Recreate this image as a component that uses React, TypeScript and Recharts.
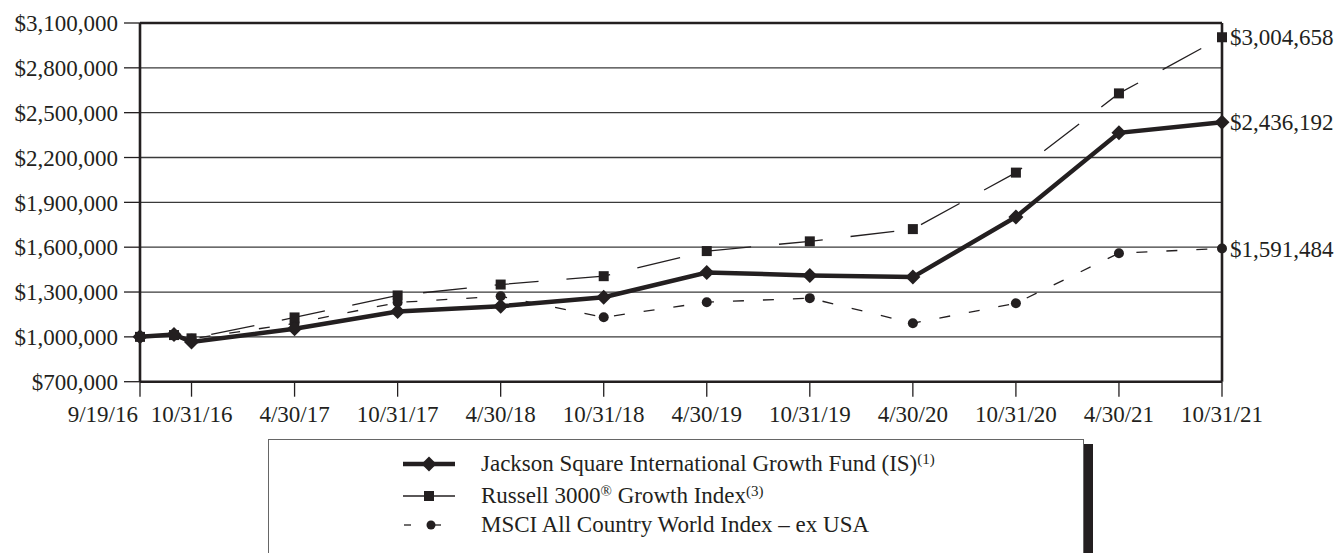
import React from 'react';
import { LineChart, Line, XAxis, YAxis, CartesianGrid, ReferenceLine } from 'recharts';

const INK = '#231f20';
const FONT = '"Liberation Serif", "Times New Roman", serif';
const FS = 23;

// observation dates and their position on the (half-yearly) x scale
const dates = ['9/19/16', '9/30/16', '10/31/16', '4/30/17', '10/31/17', '4/30/18', '10/31/18', '4/30/19', '10/31/19', '4/30/20', '10/31/20', '4/30/21', '10/31/21'];
const periods = [0, 0.33, 0.5, 1.5, 2.5, 3.5, 4.5, 5.5, 6.5, 7.5, 8.5, 9.5, 10.5];

const fundValues = [1000000, 1016000, 966000, 1054000, 1170000, 1205000, 1265000, 1431000, 1411000, 1400000, 1802000, 2365000, 2436192];
const russellValues = [1000000, 1012000, 990000, 1130000, 1277000, 1350000, 1406000, 1574000, 1639000, 1721000, 2099000, 2629000, 3004658];
const msciValues = [1000000, 1010000, 987000, 1090000, 1230000, 1272000, 1131000, 1232000, 1259000, 1091000, 1225000, 1560000, 1591484];

const tickDates = ['9/19/16', '10/31/16', '4/30/17', '10/31/17', '4/30/18', '10/31/18', '4/30/19', '10/31/19', '4/30/20', '10/31/20', '4/30/21', '10/31/21'];
const yTicks = [700000, 1000000, 1300000, 1600000, 1900000, 2200000, 2500000, 2800000, 3100000];

const data = dates.map((d, i) => ({
  date: d,
  t: periods[i],
  fund: fundValues[i],
  russell: russellValues[i],
  msci: msciValues[i],
}));

const xTicks = tickDates.map((d) => periods[dates.indexOf(d)]);

const money = (v: number) => '$' + v.toLocaleString('en-US');

const XTick = (props: any) => {
  const { x, y, payload, index } = props;
  const label = dates[periods.indexOf(payload.value)];
  return (
    <text
      x={index === 0 ? x - 2 : x}
      y={y}
      dy="0.71em"
      textAnchor={index === 0 ? 'end' : 'middle'}
      fill={INK}
      fontSize={FS}
      fontFamily={FONT}
    >
      {label}
    </text>
  );
};

const Diamond = ({ cx, cy }: any) => (
  <polygon points={`${cx},${cy - 7.5} ${cx + 7.5},${cy} ${cx},${cy + 7.5} ${cx - 7.5},${cy}`} fill={INK} />
);
const Square = ({ cx, cy }: any) => <rect x={cx - 5} y={cy - 5} width={10} height={10} fill={INK} />;
const Dot = ({ cx, cy }: any) => <circle cx={cx} cy={cy} r={5} fill={INK} />;

const endLabel = (props: any) => {
  const { x, y, value, index } = props;
  if (index !== dates.length - 1) return null;
  return (
    <text x={x + 8} y={y} dy="0.355em" fill={INK} fontSize={FS} fontFamily={FONT}>
      {money(value)}
    </text>
  );
};

const LegendSymbol = ({ kind }: { kind: string }) => (
  <svg width={60} height={20} style={{ position: 'absolute', left: 132, top: -10 }}>
    {kind === 'fund' && (
      <>
        <line x1={2} y1={10} x2={54} y2={10} stroke={INK} strokeWidth={4.5} />
        <polygon points="28,2.5 35.5,10 28,17.5 20.5,10" fill={INK} />
      </>
    )}
    {kind === 'russell' && (
      <>
        <line x1={2} y1={10} x2={54} y2={10} stroke={INK} strokeWidth={1.3} />
        <rect x={23} y={5} width={10} height={10} fill={INK} />
      </>
    )}
    {kind === 'msci' && (
      <>
        <line x1={3} y1={10} x2={10} y2={10} stroke={INK} strokeWidth={1.3} />
        <line x1={28} y1={10} x2={40} y2={10} stroke={INK} strokeWidth={1.3} />
        <circle cx={30} cy={10} r={4.5} fill={INK} />
      </>
    )}
  </svg>
);

const supStyle: React.CSSProperties = { fontSize: 15, verticalAlign: 'top', position: 'relative', top: -4 };

const legendRows = [
  { kind: 'fund', top: 24, label: <>Jackson Square International Growth Fund (IS)<span style={supStyle}>(1)</span></> },
  { kind: 'russell', top: 56, label: <>Russell 3000<span style={supStyle}>®</span> Growth Index<span style={supStyle}>(3)</span></> },
  { kind: 'msci', top: 85, label: <>MSCI All Country World Index – ex USA</> },
];

export default function App() {
  return (
    <div style={{ position: 'relative', width: 1341, height: 553, overflow: 'hidden', background: '#fff' }}>
      <style>{'body{margin:0}'}</style>
      <LineChart width={1341} height={553} data={data} margin={{ top: 23, right: 119, left: 0, bottom: 121.3 }}>
        <CartesianGrid vertical={false} stroke="#3a3a3a" strokeWidth={1.3} />
        <XAxis
          dataKey="t"
          type="number"
          domain={[0, 10.5]}
          ticks={xTicks}
          interval={0}
          height={50}
          tickSize={15}
          tickMargin={9}
          axisLine={{ stroke: INK, strokeWidth: 2.6 }}
          tickLine={{ stroke: INK, strokeWidth: 1.3 }}
          tick={<XTick />}
        />
        <YAxis
          type="number"
          domain={[700000, 3100000]}
          ticks={yTicks}
          interval={0}
          width={140}
          tickSize={16}
          tickMargin={6}
          tickFormatter={money}
          axisLine={{ stroke: INK, strokeWidth: 2.6 }}
          tickLine={{ stroke: INK, strokeWidth: 1.3 }}
          tick={{ fill: INK, fontSize: FS, fontFamily: FONT }}
        />
        <ReferenceLine y={3100000} stroke={INK} strokeWidth={2.4} />
        <ReferenceLine x={10.5} stroke={INK} strokeWidth={2.6} />
        <Line
          dataKey="msci"
          stroke={INK}
          strokeWidth={1.3}
          strokeDasharray="11 19"
          dot={(p: any) => <Dot key={`m${p.index}`} {...p} />}
          label={endLabel}
          isAnimationActive={false}
        />
        <Line
          dataKey="russell"
          stroke={INK}
          strokeWidth={1.3}
          strokeDasharray="44 28"
          dot={(p: any) => <Square key={`r${p.index}`} {...p} />}
          label={endLabel}
          isAnimationActive={false}
        />
        <Line
          dataKey="fund"
          stroke={INK}
          strokeWidth={4.5}
          dot={(p: any) => <Diamond key={`f${p.index}`} {...p} />}
          label={endLabel}
          isAnimationActive={false}
        />
      </LineChart>

      <div
        style={{
          position: 'absolute',
          left: 268,
          top: 439,
          width: 816,
          height: 140,
          borderTop: '1.5px solid #666',
          borderLeft: '1.5px solid #666',
          borderRight: '1.5px solid #666',
          boxSizing: 'border-box',
          fontFamily: FONT,
          fontSize: FS,
          color: INK,
        }}
      >
        {legendRows.map((row) => (
          <div key={row.kind} style={{ position: 'absolute', left: 0, top: row.top, width: '100%' }}>
            <LegendSymbol kind={row.kind} />
            <div style={{ position: 'absolute', left: 212, top: -14, whiteSpace: 'nowrap', lineHeight: '27px' }}>
              {row.label}
            </div>
          </div>
        ))}
      </div>
      <div style={{ position: 'absolute', left: 1084, top: 444, width: 9, height: 120, background: INK }} />
    </div>
  );
}
